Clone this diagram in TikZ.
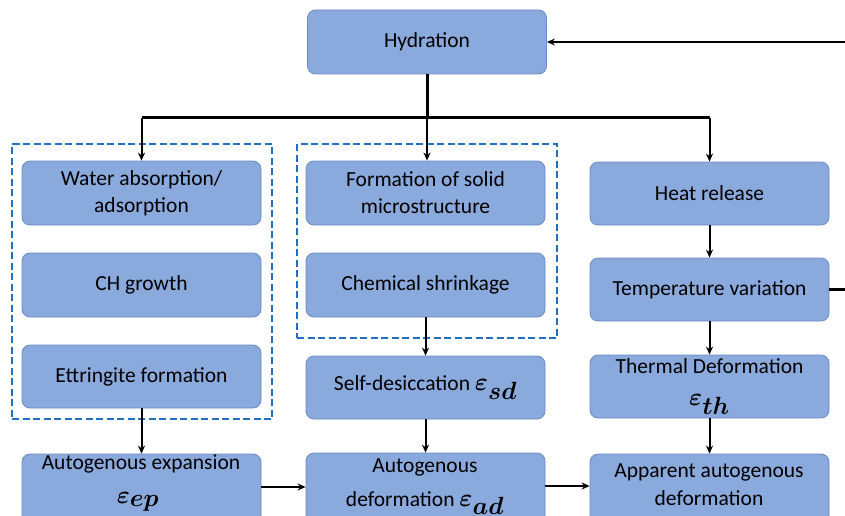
\documentclass[tikz,border=0pt]{standalone}
\usepackage{fontspec}
\setmainfont{Carlito}
\usepackage{bm}
\usetikzlibrary{arrows.meta}
\definecolor{boxfill}{HTML}{8AA9DC}
\definecolor{boxdraw}{HTML}{6A8AC4}
\definecolor{dashblue}{HTML}{1F6FC5}
\newcommand{\epsl}[1]{{\fontsize{36}{36}\selectfont$\bm{\varepsilon}_{\bm{#1}}$}}
\begin{document}
\begin{tikzpicture}[x=1pt,y=-1pt,
  box/.style={draw=boxdraw, fill=boxfill, rounded corners=8pt, line width=0.8pt,
    minimum width=239pt, minimum height=64pt, inner sep=0pt, align=center,
    font=\fontsize{21.5}{27}\selectfont},
  txt/.style={inner sep=0pt, font=\fontsize{21.5}{27}\selectfont},
  conn/.style={line width=2pt, -{Stealth[length=8pt,width=7pt]}},
  trunk/.style={line width=3pt},
  grp/.style={draw=dashblue, line width=2.3pt, dash pattern=on 7pt off 3.5pt,
    inner sep=0pt}
]
\clip (0,0) rectangle (845,516);
\useasboundingbox (0,0) rectangle (845,516);

% groups
\node[grp, minimum width=260pt, minimum height=275pt] (g1) at (142,281.5) {};
\node[grp, minimum width=260pt, minimum height=194pt] (g2) at (427,241) {};

% boxes
\node[box] (hyd) at (427,42) {Hydration};
\node[box] (water) at (141.5,193) {Water absorption/\\adsorption};
\node[box] (ch) at (141.5,285) {CH growth};
\node[box, minimum height=63pt] (ett) at (141.5,376.5) {Ettringite formation};
\node[box] (form) at (425.5,193) {Formation of solid\\microstructure};
\node[box] (chem) at (425.5,285) {Chemical shrinkage};
\node[box, minimum height=63pt] (self) at (425.5,387.5) {Self-desiccation \epsl{sd}};
\node[box, minimum height=63pt] (heat) at (709.5,193.5) {Heat release};
\node[box, minimum height=63pt] (temp) at (709.5,289.5) {Temperature variation};
\node[box, minimum height=63pt, font=\fontsize{21.5}{34}\selectfont] (therm) at (709.5,386.5) {Thermal Deformation\\[-2pt]\epsl{th}};
\node[box, minimum height=80pt] (exp) at (141.5,494) {};
\node[box, minimum height=80pt] (ad) at (425.5,493) {};
\node[box, minimum height=80pt] (app) at (709.5,494) {};

% bottom texts
\node[txt] (expt) at (141,464) {Autogenous expansion};
\node[txt] (expe) at (138,502) {\epsl{ep}};
\node[txt] (adt) at (425,467) {Autogenous};
\node[txt] (ade) at (425,503) {deformation \epsl{ad}};
\node[txt] (appt) at (709,472) {Apparent autogenous};
\node[txt] (appd) at (709,498) {deformation};

% connectors
\coordinate (split) at (427,118);
\draw[trunk] (hyd.south) -- (split);
\draw[trunk] (water.north |- split) -- (heat.north |- split);
\draw[conn] (split) -- (split |- form.north);
\draw[conn] (water.north |- split) -- (water.north);
\draw[conn] (heat.north |- split) -- (heat.north);
\draw[conn] (heat) -- (temp);
\draw[conn] (temp) -- (therm);
\draw[conn] (therm) -- (app);
\draw[conn] (ett) -- (exp);
\draw[conn] (chem) -- (self);
\draw[conn] (self) -- (ad);
\draw[conn, line width=2.4pt] ([yshift=7pt]exp.east) -- ([yshift=7pt]exp.east -| ad.west);
\draw[conn, line width=2.4pt] ([yshift=7pt]ad.east) -- ([yshift=7pt]ad.east -| app.west);
\coordinate (r1) at (870,289.5);
\coordinate (r2) at (870,42);
\draw[conn, line width=2.4pt] (temp.east) -- (r1) -- (r2) -- (hyd.east);
\end{tikzpicture}
\end{document}
